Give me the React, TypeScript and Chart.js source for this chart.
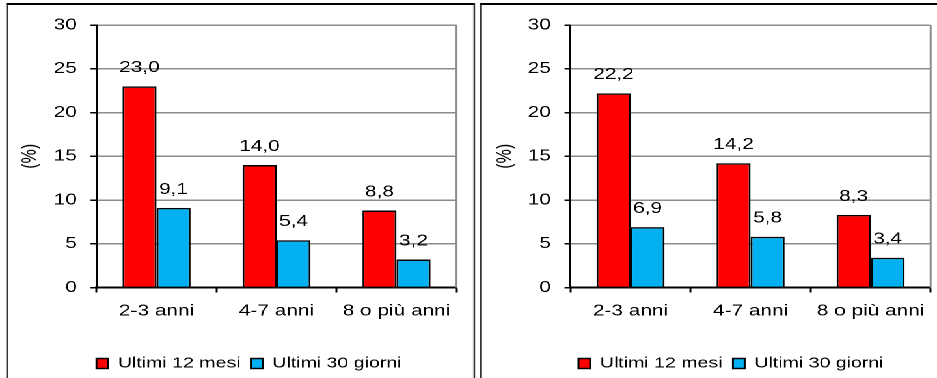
import React, { useEffect, useRef } from "react";
import { Chart, registerables } from "chart.js";

Chart.register(...registerables);

// ---- data ----
const categories = ["2-3 anni", "4-7 anni", "8 o più anni"];
const seriesNames = ["Ultimi 12 mesi", "Ultimi 30 giorni"];
const leftLast12 = [23.0, 14.0, 8.8];
const leftLast30 = [9.1, 5.4, 3.2];
const rightLast12 = [22.2, 14.2, 8.3];
const rightLast30 = [6.9, 5.8, 3.4];
const yTicksMin = 0;
const yTicksMax = 30;
const yTickStep = 5;
const yTitle = "(%)";

const FAMILY = '"Liberation Sans", Arial, sans-serif';
const RED = "#FF0000";
const BLUE = "#00B0F0";
const STRETCH = 937 / 720;

const decorPlugin = {
  id: "decor",
  afterLayout(chart: any, _args: any, opts: any) {
    const lg = chart.legend;
    if (lg && opts && opts.legendCenter != null) {
      const dx = opts.legendCenter - (lg.left + lg.right) / 2;
      lg.left += dx;
      lg.right += dx;
    }
  },
  afterDatasetsDraw(chart: any) {
    const { ctx, chartArea } = chart;
    ctx.save();
    ctx.strokeStyle = "#8c8c8c";
    ctx.lineWidth = 1.5;
    ctx.beginPath();
    ctx.moveTo(chartArea.right, chartArea.top);
    ctx.lineTo(chartArea.right, chartArea.bottom);
    ctx.stroke();
    ctx.font = `16px ${FAMILY}`;
    ctx.fillStyle = "#000";
    ctx.textAlign = "center";
    ctx.textBaseline = "middle";
    chart.data.datasets.forEach((ds: any, i: number) => {
      const meta = chart.getDatasetMeta(i);
      meta.data.forEach((el: any, j: number) => {
        const v = ds.data[j] as number;
        ctx.fillText(v.toFixed(1).replace(".", ","), el.x, el.y - 18.5);
      });
    });
    ctx.restore();
  },
};

type Props = {
  left: number;
  width: number;
  last12: number[];
  last30: number[];
  yWidth: number;
  rightPad: number;
  titlePad: number;
  legendCenter: number;
};

function BarPanel(p: Props) {
  const ref = useRef<HTMLCanvasElement | null>(null);
  useEffect(() => {
    if (!ref.current) return;
    const font = { family: FAMILY, size: 16 };
    const chart = new Chart(ref.current, {
      type: "bar",
      data: {
        labels: categories,
        datasets: [
          {
            label: seriesNames[0],
            data: p.last12,
            backgroundColor: RED,
            borderColor: "#000",
            borderWidth: 1.5,
            categoryPercentage: 0.567,
            barPercentage: 1,
          },
          {
            label: seriesNames[1],
            data: p.last30,
            backgroundColor: BLUE,
            borderColor: "#000",
            borderWidth: 1.5,
            categoryPercentage: 0.567,
            barPercentage: 1,
          },
        ],
      },
      options: {
        responsive: false,
        animation: false,
        devicePixelRatio: 2,
        layout: { padding: { top: 19, right: p.rightPad, left: 0, bottom: -3 } },
        scales: {
          x: {
            grid: {
              display: true,
              drawOnChartArea: false,
              drawTicks: true,
              tickLength: 5,
              tickColor: "#000",
              tickWidth: 1.5,
              offset: true,
            },
            border: { display: true, color: "#000", width: 2 },
            ticks: { color: "#000", font, padding: 9, maxRotation: 0, autoSkip: false },
            afterFit: (s: any) => {
              s.height = 60.5;
            },
          },
          y: {
            min: yTicksMin,
            max: yTicksMax,
            ticks: { stepSize: yTickStep, color: "#000", font, padding: 10.5 },
            grid: {
              color: "#8c8c8c",
              lineWidth: 1.5,
              tickColor: "#000",
              tickLength: 4.6,
              tickWidth: 1.5,
            },
            border: { color: "#000", width: 1.5 },
            title: {
              display: true,
              text: yTitle,
              color: "#000",
              font,
              padding: { top: p.titlePad, bottom: 0 },
            },
            afterFit: (s: any) => {
              s.width = p.yWidth;
            },
          },
        },
        plugins: {
          legend: {
            position: "bottom",
            labels: {
              boxWidth: 9,
              boxHeight: 10,
              padding: 8,
              color: "#000",
              font: { family: FAMILY, size: 15 },
            },
          },
          tooltip: { enabled: false },
          decor: { legendCenter: p.legendCenter },
        } as any,
      },
      plugins: [decorPlugin],
    } as any);
    return () => chart.destroy();
  }, []);
  return (
    <canvas
      ref={ref}
      width={p.width}
      height={373}
      style={{ position: "absolute", left: p.left, top: 5, width: p.width, height: 373, display: "block" }}
    />
  );
}

export default function App() {
  const panelBase: React.CSSProperties = {
    position: "absolute",
    top: 3,
    height: 400,
    boxSizing: "border-box",
    borderTop: "2px solid #000",
    borderLeft: "1.5px solid #000",
    borderRight: "1.5px solid #000",
    background: "#fff",
  };
  return (
    <div
      style={{
        position: "absolute",
        left: 0,
        top: 0,
        width: 720,
        height: 378,
        overflow: "hidden",
        background: "#fff",
        transform: `scaleX(${STRETCH})`,
        transformOrigin: "0 0",
      }}
    >
      <div style={{ ...panelBase, left: 4.6, width: 360.8 }} />
      <div style={{ ...panelBase, left: 368.5, width: 400 }} />
      <BarPanel
        left={6}
        width={356}
        last12={leftLast12}
        last30={leftLast30}
        yWidth={68.2}
        rightPad={11.2}
        titlePad={7.4}
        legendCenter={185.3}
      />
      <BarPanel
        left={370}
        width={350}
        last12={rightLast12}
        last30={rightLast30}
        yWidth={68.4}
        rightPad={3.8}
        titlePad={8.4}
        legendCenter={191.7}
      />
    </div>
  );
}
